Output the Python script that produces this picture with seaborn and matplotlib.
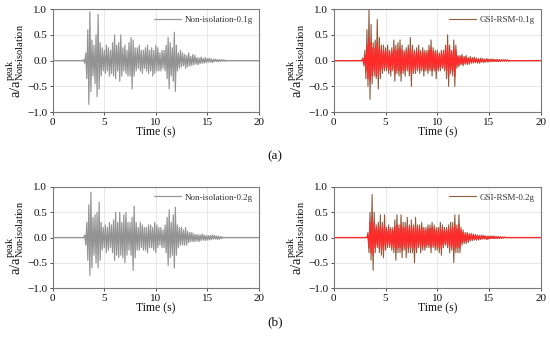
import numpy as np
import matplotlib
matplotlib.use("Agg")
import matplotlib.pyplot as plt
import seaborn as sns

sns.set_theme(style="whitegrid")
plt.rcParams['font.family'] = ['Liberation Serif', 'DejaVu Serif']
plt.rcParams['mathtext.fontset'] = 'custom'
plt.rcParams['mathtext.rm'] = 'Liberation Serif'
plt.rcParams['mathtext.it'] = 'Liberation Serif:italic'

# ---------------- data, step 0.1 s ----------------
STEP = 0.1
x_ticks = [0, 5, 10, 15, 20]
y_ticks = [-1.0, -0.5, 0.0, 0.5, 1.0]
panel_tags = ["(a)", "(b)"]

noniso_01_start = 3.0
noniso_01 = [
    0.02, -0.05, 0.15, -0.35, 0.6, -0.85, 0.95, -0.6, 0.4, -0.3,
    0.3, -0.45, 0.5, -0.7, 0.9, -0.55, 0.35, -0.3, 0.25, -0.2,
    0.2, -0.25, 0.3, -0.2, 0.25, -0.3, 0.2, -0.25, 0.35, -0.3,
    0.5, -0.35, 0.3, -0.2, 0.35, -0.4, 0.5, -0.3, 0.25, -0.2,
    0.3, -0.25, 0.2, -0.3, 0.35, -0.3, 0.45, -0.55, 0.4, -0.3,
    0.25, -0.2, 0.25, -0.15, 0.3, -0.2, 0.2, -0.25, 0.2, -0.15,
    0.25, -0.2, 0.3, -0.25, 0.2, -0.2, 0.25, -0.3, 0.2, -0.25,
    0.3, -0.2, 0.25, -0.2, 0.15, -0.2, 0.2, -0.15, 0.2, -0.2,
    0.3, -0.35, 0.45, -0.55, 0.35, -0.3, 0.25, -0.4, 0.55, -0.6,
    0.3, -0.2, 0.15, -0.15, 0.2, -0.12, 0.15, -0.1, 0.12, -0.15,
    0.1, -0.12, 0.15, -0.1, 0.08, -0.1, 0.12, -0.08, 0.1, -0.07,
    0.06, -0.08, 0.05, -0.06, 0.07, -0.05, 0.04, -0.05, 0.06, -0.04,
    0.04, -0.03, 0.05, -0.03, 0.03, -0.04, 0.03, -0.02, 0.03, -0.02,
    0.02, -0.02, 0.02, -0.015, 0.02, -0.01, 0.015, -0.01, 0.01, -0.01,
]

gsi_01_start = 2.8
gsi_01_brown = [
    0.05, -0.1,
    0.2, -0.35, 0.6, -0.5, 1.0, -0.75, 0.7, -0.45, 0.35, -0.3,
    0.4, -0.35, 0.8, -0.55, 0.45, -0.35, 0.3, -0.25, 0.3, -0.2,
    0.25, -0.2, 0.3, -0.25, 0.2, -0.3, 0.25, -0.2, 0.4, -0.4,
    0.3, -0.25, 0.35, -0.3, 0.4, -0.4, 0.3, -0.25, 0.2, -0.3,
    0.25, -0.2, 0.3, -0.3, 0.45, -0.5, 0.3, -0.25, 0.2, -0.25,
    0.25, -0.2, 0.3, -0.25, 0.2, -0.2, 0.25, -0.3, 0.2, -0.2,
    0.2, -0.25, 0.3, -0.2, 0.4, -0.3, 0.25, -0.2, 0.2, -0.35,
    0.2, -0.2, 0.15, -0.2, 0.2, -0.15, 0.2, -0.2, 0.3, -0.35,
    0.5, -0.5, 0.3, -0.25, 0.2, -0.3, 0.4, -0.5, 0.3, -0.15,
    0.1, -0.12, 0.1, -0.08, 0.12, -0.1, 0.08, -0.07, 0.1, -0.08,
    0.06, -0.07, 0.08, -0.05, 0.06, -0.05, 0.07, -0.04, 0.05, -0.05,
    0.04, -0.05, 0.05, -0.03, 0.04, -0.04, 0.03, -0.03, 0.04, -0.03,
    0.03, -0.02, 0.03, -0.02, 0.03, -0.02, 0.02, -0.02, 0.03, -0.02,
    0.02, -0.015, 0.02, -0.01, 0.015, -0.01, 0.02, -0.01, 0.015, -0.01,
]
gsi_01_red = [
    0.03, -0.05,
    0.1, -0.2, 0.3, -0.35, 0.45, -0.4, 0.35, -0.3, 0.25, -0.2,
    0.25, -0.3, 0.35, -0.3, 0.25, -0.2, 0.2, -0.18, 0.2, -0.15,
    0.18, -0.15, 0.2, -0.18, 0.15, -0.2, 0.18, -0.15, 0.25, -0.25,
    0.2, -0.18, 0.22, -0.2, 0.25, -0.25, 0.2, -0.18, 0.15, -0.2,
    0.18, -0.15, 0.2, -0.2, 0.25, -0.25, 0.2, -0.18, 0.15, -0.18,
    0.18, -0.15, 0.2, -0.18, 0.15, -0.15, 0.18, -0.2, 0.15, -0.15,
    0.15, -0.18, 0.2, -0.15, 0.25, -0.2, 0.18, -0.15, 0.15, -0.2,
    0.15, -0.15, 0.12, -0.15, 0.15, -0.12, 0.15, -0.15, 0.2, -0.2,
    0.3, -0.3, 0.2, -0.18, 0.15, -0.2, 0.25, -0.3, 0.2, -0.1,
    0.08, -0.08, 0.07, -0.06, 0.08, -0.07, 0.06, -0.05, 0.07, -0.05,
    0.04, -0.05, 0.05, -0.03, 0.04, -0.03, 0.04, -0.03, 0.03, -0.03,
    0.02, -0.03, 0.03, -0.02, 0.02, -0.02, 0.02, -0.015, 0.02, -0.015,
    0.015, -0.015, 0.02, -0.01, 0.015, -0.01, 0.015, -0.01, 0.01, -0.01,
    0.01, -0.01, 0.01, -0.005, 0.01, -0.005, 0.01, -0.005, 0.005, -0.005,
]

noniso_02_start = 3.1
noniso_02 = [
    0.05, -0.15, 0.3, -0.45, 0.65, -0.75, 0.9, -0.6, 0.4,
    -0.35, 0.45, -0.5, 0.5, -0.6, 0.7, -0.45, 0.3, -0.25, 0.2,
    -0.2, 0.25, -0.3, 0.2, -0.25, 0.3, -0.2, 0.25, -0.3, 0.35,
    -0.45, 0.5, -0.35, 0.3, -0.4, 0.5, -0.35, 0.3, -0.4, 0.45,
    -0.5, 0.5, -0.35, 0.3, -0.25, 0.3, -0.35, 0.4, -0.65, 0.62,
    -0.4, 0.3, -0.25, 0.2, -0.25, 0.3, -0.2, 0.25, -0.25, 0.2,
    -0.25, 0.2, -0.3, 0.25, -0.2, 0.25, -0.2, 0.2, -0.25, 0.3,
    -0.3, 0.25, -0.2, 0.2, -0.15, 0.2, -0.2, 0.15, -0.2, 0.25,
    -0.3, 0.4, -0.55, 0.55, -0.4, 0.3, -0.35, 0.45, -0.6, 0.6,
    -0.35, 0.25, -0.2, 0.2, -0.15, 0.2, -0.15, 0.15, -0.15, 0.2,
    -0.15, 0.12, -0.1, 0.1, -0.08, 0.1, -0.08, 0.07, -0.08, 0.06,
    -0.07, 0.06, -0.08, 0.05, -0.06, 0.07, -0.05, 0.05, -0.06, 0.04,
    -0.05, 0.04, -0.05, 0.04, -0.04, 0.05, -0.03, 0.04, -0.03, 0.03,
    -0.04, 0.03, -0.03, 0.02, -0.02, 0.01,
]

gsi_02_start = 3.3
gsi_02_brown = [
    0.1, -0.3, 0.5, -0.45, 0.85, -0.65, 0.5,
    -0.3, 0.25, -0.2, 0.3, -0.3, 0.45, -0.35, 0.3, -0.4, 0.45,
    -0.25, 0.2, -0.2, 0.25, -0.2, 0.2, -0.25, 0.2, -0.3, 0.35,
    -0.45, 0.45, -0.3, 0.25, -0.3, 0.45, -0.4, 0.3, -0.25, 0.3,
    -0.4, 0.4, -0.3, 0.25, -0.3, 0.35, -0.3, 0.25, -0.5, 0.4,
    -0.3, 0.25, -0.2, 0.25, -0.3, 0.3, -0.25, 0.2, -0.25, 0.2,
    -0.2, 0.25, -0.2, 0.25, -0.3, 0.3, -0.2, 0.25, -0.25, 0.2,
    -0.25, 0.2, -0.3, 0.3, -0.35, 0.25, -0.2, 0.2, -0.15, 0.2,
    -0.2, 0.25, -0.3, 0.3, -0.25, 0.3, -0.5, 0.45, -0.3, 0.25,
    -0.3, 0.45, -0.3, 0.2, -0.15, 0.15, -0.12, 0.1, -0.12, 0.1,
    -0.1, 0.08, -0.07, 0.08, -0.06, 0.07, -0.05, 0.06, -0.05, 0.05,
    -0.05, 0.04, -0.04, 0.05, -0.03, 0.04, -0.03, 0.03, -0.04, 0.03,
    -0.03, 0.03, -0.02, 0.03, -0.02, 0.03, -0.02, 0.02, -0.02, 0.02,
    -0.02, 0.015, -0.015, 0.01, -0.01, 0.01,
]
gsi_02_red = [
    0.05, -0.2, 0.3, -0.3, 0.4, -0.35, 0.3,
    -0.2, 0.18, -0.15, 0.2, -0.2, 0.25, -0.22, 0.2, -0.25, 0.25,
    -0.15, 0.15, -0.15, 0.18, -0.15, 0.15, -0.18, 0.15, -0.2, 0.22,
    -0.25, 0.25, -0.2, 0.18, -0.2, 0.25, -0.25, 0.2, -0.18, 0.2,
    -0.22, 0.22, -0.2, 0.18, -0.2, 0.22, -0.2, 0.18, -0.25, 0.22,
    -0.2, 0.18, -0.15, 0.18, -0.2, 0.2, -0.18, 0.15, -0.18, 0.15,
    -0.15, 0.18, -0.15, 0.18, -0.2, 0.2, -0.15, 0.18, -0.18, 0.15,
    -0.18, 0.15, -0.2, 0.2, -0.22, 0.18, -0.15, 0.15, -0.12, 0.15,
    -0.15, 0.18, -0.2, 0.2, -0.18, 0.2, -0.25, 0.25, -0.2, 0.18,
    -0.2, 0.25, -0.2, 0.15, -0.1, 0.1, -0.08, 0.07, -0.08, 0.07,
    -0.07, 0.06, -0.05, 0.06, -0.04, 0.05, -0.04, 0.04, -0.04, 0.04,
    -0.03, 0.03, -0.03, 0.03, -0.02, 0.03, -0.02, 0.02, -0.03, 0.02,
    -0.02, 0.02, -0.015, 0.02, -0.015, 0.02, -0.015, 0.015, -0.015, 0.015,
    -0.01, 0.01, -0.01, 0.01, -0.005, 0.005,
]

legend_labels = ["Non-isolation-0.1g", "GSI-RSM-0.1g", "Non-isolation-0.2g", "GSI-RSM-0.2g"]
x_label = "Time (s)"
y_label = r"a/a$_{\mathrm{Non\!\text{-}isolation}}^{\mathrm{peak}}$"


def series(start, vals):
    t = np.concatenate([[0.0, start - STEP], start + STEP * np.arange(len(vals)),
                        [start + STEP * len(vals), 20.0]])
    v = np.concatenate([[0.0, 0.0], vals, [0.0, 0.0]])
    return t, v


fig = plt.figure(figsize=(5.5, 3.45), dpi=100)
pos = {
    (0, 0): [0.096, 0.675, 0.3745, 0.2986],
    (0, 1): [0.607, 0.675, 0.376, 0.2986],
    (1, 0): [0.096, 0.165, 0.3745, 0.293],
    (1, 1): [0.607, 0.165, 0.376, 0.293],
}

GREY = "#939393"
RED = "#ff2b2b"
BROWN = "#8e5a3c"

# (start, values, colour, linewidth, legend label, show in legend)
panels = [
    ((0, 0), [(noniso_01_start, noniso_01, GREY, 0.85, legend_labels[0])]),
    ((0, 1), [(gsi_01_start, gsi_01_brown, BROWN, 0.8, legend_labels[1]),
              (gsi_01_start, gsi_01_red, RED, 0.9, None)]),
    ((1, 0), [(noniso_02_start, noniso_02, GREY, 0.85, legend_labels[2])]),
    ((1, 1), [(gsi_02_start, gsi_02_brown, BROWN, 0.8, legend_labels[3]),
              (gsi_02_start, gsi_02_red, RED, 0.9, None)]),
]

for key, lines in panels:
    ax = fig.add_axes(pos[key])
    handles = []
    for start, vals, col, lw, lab in lines:
        t, v = series(start, vals)
        sns.lineplot(x=t, y=v, ax=ax, color=col, linewidth=lw,
                     estimator=None, sort=False, legend=False)
        if lab is not None:
            handles.append((ax.lines[-1], lab))
    ax.set_xlim(0, 20)
    ax.set_ylim(-1.0, 1.0)
    ax.set_xticks(x_ticks)
    ax.set_yticks(y_ticks)
    ax.set_xticklabels([str(x) for x in x_ticks])
    ax.set_yticklabels([f"{y:.1f}".replace("-", "\u2212") for y in y_ticks])
    ax.grid(True, color="#e4e4e4", linewidth=0.6)
    for s in ax.spines.values():
        s.set_color("#7a7a7a")
        s.set_linewidth(0.8)
    ax.tick_params(axis="both", labelsize=8, length=2.5, width=0.6,
                   colors="#333333", pad=1.5, direction="out",
                   bottom=True, left=True)
    ax.tick_params(axis="both", labelcolor="#111111")
    ax.set_xlabel(x_label, fontsize=8.5, labelpad=0, color="#111111")
    ax.set_ylabel(y_label, fontsize=10.5, labelpad=1, color="#111111")
    leg = ax.legend([h for h, _ in handles], [l for _, l in handles],
                    loc="upper right", frameon=False, fontsize=6.5,
                    handlelength=3.0, handletextpad=0.4, borderaxespad=0.3)
    for txt in leg.get_texts():
        txt.set_color("#333333")

fig.text(0.5, 0.548, panel_tags[0], ha="center", va="center", fontsize=9.5, color="#111111")
fig.text(0.5, 0.067, panel_tags[1], ha="center", va="center", fontsize=9.5, color="#111111")

fig.savefig("out.png", dpi=100, facecolor="white")
